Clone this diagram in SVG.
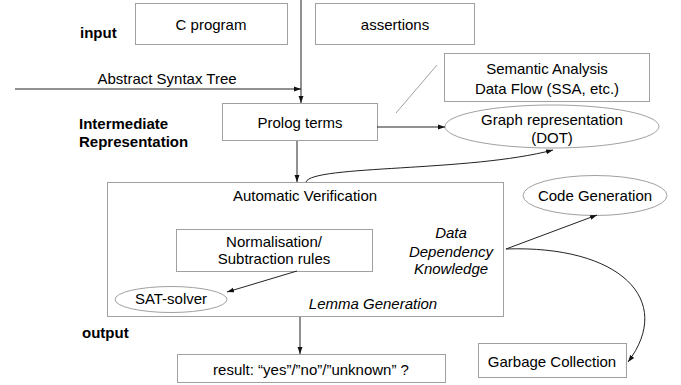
<svg xmlns="http://www.w3.org/2000/svg" width="681" height="385" viewBox="0 0 681 385">
<defs>
<style>
text{font-family:"Liberation Sans",Arial,sans-serif;font-size:15px;fill:#000;text-anchor:middle}
.lbl{font-weight:bold;text-anchor:start}
.it{font-style:italic}
.box{fill:#fff;stroke:#a0a0a0;stroke-width:1}
.conn{fill:none;stroke:#222;stroke-width:1}
.thin{fill:none;stroke:#a0a0a0;stroke-width:1}
</style>
<marker id="ah" viewBox="0 0 10 10" refX="10" refY="5" markerWidth="7" markerHeight="7" orient="auto" markerUnits="userSpaceOnUse">
<path d="M0,1.5 L10,5 L0,8.5 Z" fill="#111"/>
</marker>
</defs>
<rect width="681" height="385" fill="#fff"/>
<text class="lbl" x="80" y="38">input</text>
<text class="lbl" x="79" y="129">Intermediate</text>
<text class="lbl" x="79" y="147">Representation</text>
<text class="lbl" x="82" y="338">output</text>
<g id="cprogram"><rect class="box" x="135.5" y="3.5" width="152" height="41"/><text x="211" y="30">C program</text></g>
<g id="assertions"><rect class="box" x="315.5" y="3.5" width="159" height="41"/><text x="395" y="30">assertions</text></g>
<g id="semantic"><rect class="box" x="444.5" y="53.5" width="205" height="48"/><text x="547" y="74">Semantic Analysis</text><text x="547" y="94">Data Flow (SSA, etc.)</text></g>
<g id="prolog"><rect class="box" x="222.5" y="103.5" width="155" height="37"/><text x="300" y="128">Prolog terms</text></g>
<g id="graph"><ellipse class="box" cx="552" cy="126.5" rx="107" ry="21.5"/><text x="552" y="125">Graph representation</text><text x="552" y="143">(DOT)</text></g>
<g id="autover"><rect class="box" x="107.5" y="182.5" width="396" height="134"/><text x="305" y="201">Automatic Verification</text>
<text class="it" x="451" y="238">Data</text><text class="it" x="451" y="257">Dependency</text><text class="it" x="451" y="274">Knowledge</text>
<text class="it" x="373" y="309">Lemma Generation</text></g>
<g id="normalisation"><rect class="box" x="176.5" y="229.5" width="196" height="42"/><text x="274" y="247">Normalisation/</text><text x="274" y="264">Subtraction rules</text></g>
<g id="sat"><ellipse class="box" cx="171" cy="299.5" rx="56" ry="13"/><text x="171" y="304">SAT-solver</text></g>
<g id="codegen"><ellipse class="box" cx="595" cy="195.5" rx="72" ry="20"/><text x="595" y="201">Code Generation</text></g>
<g id="result"><rect class="box" x="177.5" y="354.5" width="268" height="28"/><text x="311" y="375">result: “yes”/”no”/”unknown” ?</text></g>
<g id="garbage"><rect class="box" x="478.5" y="343.5" width="148" height="34"/><text x="552" y="367">Garbage Collection</text></g>
<g id="connectors">
<line class="conn" x1="301" y1="0" x2="301" y2="103" marker-end="url(#ah)"/>
<line class="conn" x1="15" y1="89" x2="301" y2="89" marker-end="url(#ah)"/>
<text x="167" y="84">Abstract Syntax Tree</text>
<line class="thin" x1="396" y1="113" x2="437" y2="65"/>
<line class="conn" x1="377" y1="127" x2="445" y2="127" marker-end="url(#ah)"/>
<line class="conn" x1="297" y1="141" x2="297" y2="182" marker-end="url(#ah)"/>
<path class="conn" d="M306,182 C312,165 470,172 553,150" marker-end="url(#ah)"/>
<line class="conn" x1="297" y1="271" x2="227" y2="292" marker-end="url(#ah)"/>
<line class="conn" x1="506" y1="249" x2="597" y2="215" marker-end="url(#ah)"/>
<path class="conn" d="M506,249 C620,245 675,300 628,362" marker-end="url(#ah)"/>
<line class="conn" x1="300" y1="317" x2="300" y2="354" marker-end="url(#ah)"/>
</g>
</svg>
